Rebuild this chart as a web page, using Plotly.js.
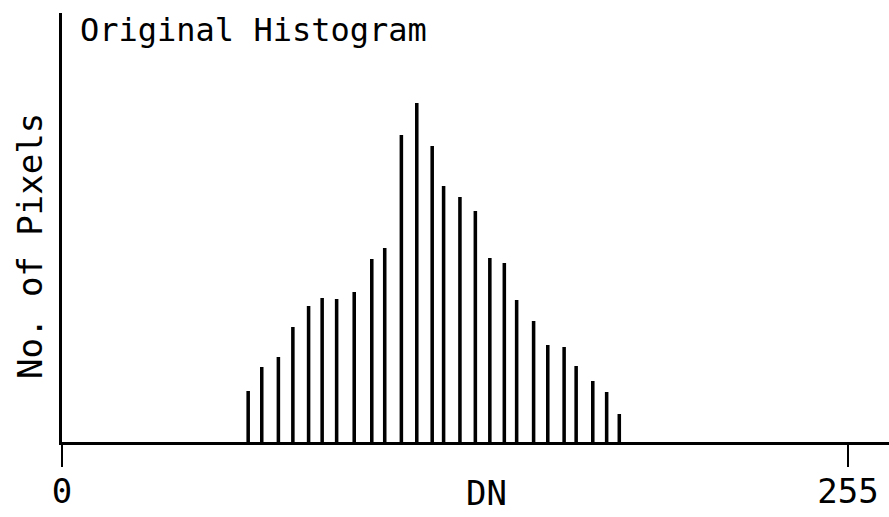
<!DOCTYPE html>
<html>
<head>
<meta charset="utf-8">
<script src="https://cdn.plot.ly/plotly-3.0.1.min.js"></script>
<style>html,body{margin:0;padding:0;background:#fff;}#chart{width:889px;height:517px;}</style>
</head>
<body>
<div id="chart"></div>
<script>
// Grey level (DN) of each histogram line and its pixel count (arbitrary units)
const dnValues = [60.4, 64.8, 70.2, 74.9, 80.0, 84.4, 89.1, 94.8, 100.5, 104.7, 110.1, 115.1, 120.1,
                  123.8, 129.1, 134.1, 138.8, 143.5, 147.5, 153.0, 157.6, 162.9, 166.8, 172.2, 176.7, 180.8];
const pixelCounts = [51, 75, 85, 115, 136, 144, 143, 150, 183, 194, 307, 339, 296,
                     256, 245, 231, 184, 179, 142, 121, 97, 95, 76, 61, 50, 28];
const xTickValues = [0, 255];
const xTickLabels = ['0', '255'];
const chartTitle = 'Original Histogram';
const xLabel = 'DN';
const yLabel = 'No. of Pixels';

const FONT = 'DejaVu Sans Mono, monospace';

const trace = {
  type: 'bar',
  x: dnValues,
  y: pixelCounts,
  width: 1.15,
  marker: {color: '#000', line: {width: 0}},
  hoverinfo: 'skip'
};

const layout = {
  width: 889, height: 517,
  margin: {l: 62, r: 0, t: 13, b: 75, pad: 0},
  paper_bgcolor: '#fff', plot_bgcolor: '#fff',
  showlegend: false,
  title: {
    text: chartTitle, xref: 'container', yref: 'container',
    x: 80/889, xanchor: 'left', y: 1 - 30/517, yanchor: 'middle',
    font: {family: FONT, size: 32, color: '#000'}
  },
  xaxis: {
    range: [0, 268.3], showgrid: false, zeroline: false,
    showline: true, linecolor: '#000', linewidth: 3,
    tickmode: 'array', tickvals: xTickValues, ticktext: xTickLabels,
    ticks: 'outside', ticklen: 22, tickwidth: 2.5, tickcolor: '#000',
    ticklabelstandoff: -5,
    tickfont: {family: FONT, size: 34, color: '#000'},
    fixedrange: true
  },
  yaxis: {
    range: [0, 429], showgrid: false, zeroline: false,
    showline: true, linecolor: '#000', linewidth: 3,
    showticklabels: false, ticks: '',
    fixedrange: true
  },
  annotations: [
    {text: xLabel, xref: 'paper', yref: 'paper', x: (486-62)/827, y: -(493-442)/429,
     xanchor: 'center', yanchor: 'middle', showarrow: false,
     font: {family: FONT, size: 34, color: '#000'}},
    {text: yLabel, xref: 'paper', yref: 'paper', x: -(62-30)/827, y: (442-246)/429,
     xanchor: 'center', yanchor: 'middle', showarrow: false, textangle: -90,
     font: {family: FONT, size: 34, color: '#000'}}
  ]
};

Plotly.newPlot('chart', [trace], layout, {displayModeBar: false, staticPlot: true});
</script>
</body>
</html>
